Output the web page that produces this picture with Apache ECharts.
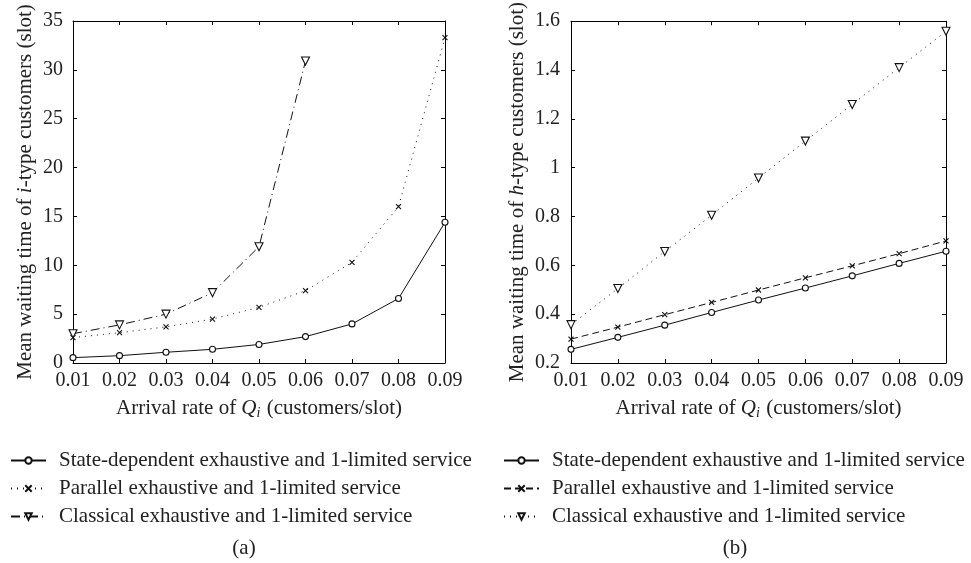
<!DOCTYPE html>
<html>
<head>
<meta charset="utf-8">
<script src="https://cdn.jsdelivr.net/npm/echarts@6/dist/echarts.min.js"></script>
<style>
html,body{margin:0;padding:0;background:#fff;}
#c{width:971px;height:563px;}
</style>
</head>
<body>
<div id="c"></div>
<script>
var categories = ['0.01','0.02','0.03','0.04','0.05','0.06','0.07','0.08','0.09'];
var seriesNames = ['State-dependent exhaustive and 1-limited service','Parallel exhaustive and 1-limited service','Classical exhaustive and 1-limited service'];
// Panel (a): i-type customers
var aState = [0.55, 0.75, 1.1, 1.4, 1.9, 2.7, 4.0, 6.6, 14.4];
var aParallel = [2.6, 3.1, 3.7, 4.5, 5.7, 7.4, 10.3, 16.0, 33.3];
var aClassical = [3.0, 3.9, 5.0, 7.2, 11.9, 30.9];
// Panel (b): h-type customers
var bState = [0.256, 0.305, 0.355, 0.407, 0.458, 0.507, 0.557, 0.608, 0.658];
var bParallel = [0.298, 0.347, 0.398, 0.448, 0.499, 0.549, 0.598, 0.648, 0.700];
var bClassical = [0.357, 0.505, 0.657, 0.805, 0.958, 1.109, 1.259, 1.410, 1.559];

var FONT = '"Liberation Serif", "DejaVu Serif", serif';
var SYM_X = 'path://M0,0L10,10M10,0L0,10';
var SYM_TRI = 'path://M0,0L10,0L5,9Z';
var DOT = [1, 5];
var DASH = [7, 4];
var DASHDOT = [9, 4, 1, 4];
var TXT = '#222';

var chart = echarts.init(document.getElementById('c'), null, {renderer: 'canvas'});

function xAx(gi, pos) {
  var main = pos === 'bottom';
  return {
    type: 'category', gridIndex: gi, position: pos, data: categories, boundaryGap: false,
    axisLine: {show: true, onZero: false, lineStyle: {color: '#000', width: 1}},
    axisTick: {show: true, inside: true, length: 4, alignWithLabel: true, lineStyle: {color: '#000'}},
    axisLabel: {show: main, color: TXT, fontFamily: FONT, fontSize: 20, margin: 8},
    splitLine: {show: false},
    name: main ? 'Arrival rate of {it|Q}{sub|i} (customers/slot)' : '',
    nameLocation: 'middle', nameGap: 34,
    nameTextStyle: {color: TXT, fontFamily: FONT, fontSize: 21,
      rich: {it: {fontFamily: FONT, fontSize: 21, fontStyle: 'italic', color: TXT},
             sub: {fontFamily: FONT, fontSize: 14, fontStyle: 'italic', color: TXT, padding: [9, 1, 0, 0]}}}
  };
}
function yAx(gi, pos, min, max, interval, name, gap, lm) {
  var main = pos === 'left';
  return {
    type: 'value', gridIndex: gi, position: pos, min: min, max: max, interval: interval,
    axisLine: {show: true, onZero: false, lineStyle: {color: '#000', width: 1}},
    axisTick: {show: true, inside: true, length: 4, lineStyle: {color: '#000'}},
    axisLabel: {show: main, color: TXT, fontFamily: FONT, fontSize: 20, margin: lm || 10,
      formatter: function (v) { return String(+v.toFixed(1)); }},
    splitLine: {show: false},
    name: main ? name : '',
    nameLocation: 'middle', nameGap: gap || 37,
    nameTextStyle: {color: TXT, fontFamily: FONT, fontSize: 21,
      rich: {it: {fontFamily: FONT, fontSize: 21, fontStyle: 'italic', color: TXT}}}
  };
}
function ser(name, data, xi, yi, sym, symSize, lt) {
  return {
    name: name, type: 'line', xAxisIndex: xi, yAxisIndex: yi, data: data,
    symbol: sym, symbolSize: symSize, showSymbol: true, animation: false,
    lineStyle: {color: '#111', width: 1, type: lt},
    itemStyle: {color: '#fff', borderColor: '#111', borderWidth: 1.1}
  };
}

var legendCommon = {
  orient: 'vertical', padding: 0, itemGap: 7, itemWidth: 35, itemHeight: 8,
  textStyle: {fontFamily: FONT, fontSize: 21, color: TXT, padding: [0, 0, 0, 8]},
  inactiveColor: '#111'
};

chart.setOption({
  backgroundColor: '#fff',
  animation: false,
  grid: [
    {left: 73, top: 21, width: 372, height: 342},
    {left: 571, top: 21, width: 375, height: 342}
  ],
  xAxis: [xAx(0, 'bottom'), xAx(0, 'top'), xAx(1, 'bottom'), xAx(1, 'top')],
  yAxis: [
    yAx(0, 'left', 0, 35, 5, 'Mean waiting time of {it|i}-type customers (slot)', 37, 10),
    yAx(0, 'right', 0, 35, 5, ''),
    yAx(1, 'left', 0.2, 1.6, 0.2, 'Mean waiting time of {it|h}-type customers (slot)', 43, 11),
    yAx(1, 'right', 0.2, 1.6, 0.2, '')
  ],
  legend: [
    Object.assign({}, legendCommon, {left: 10, top: 450,
      data: ['aS', 'aP', 'aC'].map(function (k) { return {name: k}; }),
      formatter: function (n) { return seriesNames[{aS: 0, aP: 1, aC: 2}[n]]; }}),
    Object.assign({}, legendCommon, {left: 503, top: 450,
      data: ['bS', 'bP', 'bC'].map(function (k) { return {name: k}; }),
      formatter: function (n) { return seriesNames[{bS: 0, bP: 1, bC: 2}[n]]; }})
  ],
  series: [
    ser('aS', aState, 0, 0, 'circle', 6, 'solid'),
    ser('aP', aParallel, 0, 0, SYM_X, 5, DOT),
    ser('aC', aClassical, 0, 0, SYM_TRI, 8, DASHDOT),
    ser('bS', bState, 2, 2, 'circle', 6, 'solid'),
    ser('bP', bParallel, 2, 2, SYM_X, 5, DASH),
    ser('bC', bClassical, 2, 2, SYM_TRI, 8, DOT)
  ],
  graphic: [
    {type: 'text', x: 244, y: 548, style: {text: '(a)', font: '21px ' + FONT, fill: TXT, align: 'center', verticalAlign: 'middle'}},
    {type: 'text', x: 735, y: 548, style: {text: '(b)', font: '21px ' + FONT, fill: TXT, align: 'center', verticalAlign: 'middle'}}
  ]
});
</script>
</body>
</html>
